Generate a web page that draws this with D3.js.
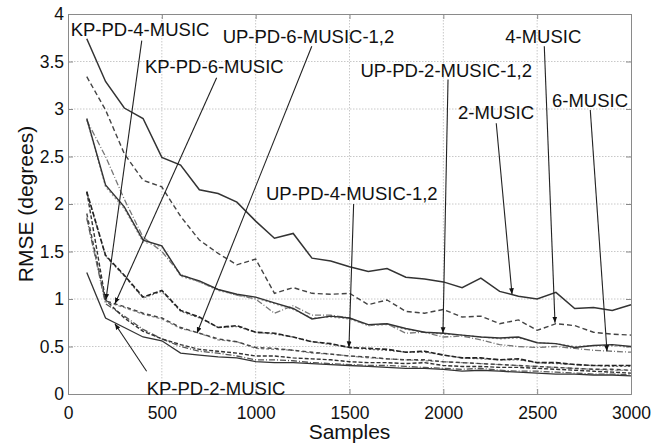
<!DOCTYPE html>
<html>
<head>
<meta charset="utf-8">
<script src="https://cdn.jsdelivr.net/npm/d3@7"></script>
<style>
    html, body { margin: 0; padding: 0; background: #fff; overflow: hidden; }
    svg { display: block; }
    svg text { font-family: "Liberation Sans", Arial, sans-serif; fill: #111; }
</style>
</head>
<body>
<div id="graph"></div>
<script>
// Samples on the x axis
const samples = [100, 200, 300, 400, 500, 600, 700, 800, 900, 1000,
    1100, 1200, 1300, 1400, 1500, 1600, 1700, 1800, 1900, 2000,
    2100, 2200, 2300, 2400, 2500, 2600, 2700, 2800, 2900, 3000];

// RMSE curves
const music2 = [3.74, 3.29, 3.01, 2.90, 2.49, 2.41, 2.15, 2.11, 2.02, 1.82,
    1.64, 1.69, 1.43, 1.40, 1.34, 1.29, 1.32, 1.23, 1.21, 1.18,
    1.12, 1.22, 1.08, 1.03, 1.00, 1.07, 0.90, 0.91, 0.88, 0.94];
const music4 = [3.34, 2.99, 2.53, 2.25, 2.18, 1.87, 1.62, 1.48, 1.36, 1.42,
    1.06, 1.12, 1.06, 1.05, 1.06, 0.94, 0.99, 0.87, 0.85, 0.89,
    0.81, 0.82, 0.74, 0.78, 0.67, 0.74, 0.72, 0.65, 0.63, 0.62];
const music6 = [2.88, 2.50, 2.05, 1.65, 1.50, 1.26, 1.18, 1.10, 1.04, 1.00,
    0.85, 0.93, 0.83, 0.83, 0.80, 0.72, 0.74, 0.64, 0.65, 0.60,
    0.61, 0.57, 0.52, 0.50, 0.49, 0.50, 0.48, 0.46, 0.45, 0.44];
const upPd2a = [2.90, 2.20, 1.97, 1.62, 1.56, 1.25, 1.19, 1.10, 1.05, 1.02,
    0.96, 0.90, 0.79, 0.82, 0.80, 0.73, 0.74, 0.69, 0.65, 0.64,
    0.62, 0.60, 0.59, 0.60, 0.54, 0.53, 0.49, 0.51, 0.52, 0.50];
const upPd2b = [2.89, 2.18, 1.95, 1.60, 1.55, 1.24, 1.18, 1.09, 1.04, 1.01,
    0.95, 0.89, 0.80, 0.81, 0.79, 0.72, 0.73, 0.68, 0.65, 0.63,
    0.62, 0.60, 0.58, 0.59, 0.54, 0.53, 0.50, 0.51, 0.51, 0.49];
const upPd4a = [2.13, 1.46, 1.25, 1.02, 1.09, 0.88, 0.81, 0.70, 0.72, 0.65,
    0.64, 0.60, 0.55, 0.53, 0.49, 0.48, 0.47, 0.44, 0.45, 0.41,
    0.38, 0.38, 0.36, 0.37, 0.33, 0.33, 0.31, 0.30, 0.30, 0.30];
const upPd4b = [2.12, 1.45, 1.24, 1.01, 1.08, 0.87, 0.80, 0.70, 0.71, 0.65,
    0.63, 0.60, 0.55, 0.52, 0.49, 0.47, 0.46, 0.44, 0.44, 0.41,
    0.38, 0.37, 0.36, 0.36, 0.33, 0.32, 0.31, 0.30, 0.29, 0.29];
const upPd6a = [1.90, 0.98, 0.92, 0.85, 0.80, 0.70, 0.64, 0.58, 0.55, 0.49,
    0.48, 0.46, 0.44, 0.42, 0.40, 0.39, 0.37, 0.36, 0.36, 0.34,
    0.33, 0.32, 0.31, 0.30, 0.29, 0.28, 0.27, 0.26, 0.26, 0.25];
const upPd6b = [1.86, 0.97, 0.91, 0.84, 0.79, 0.69, 0.64, 0.57, 0.55, 0.48,
    0.47, 0.46, 0.43, 0.42, 0.40, 0.38, 0.37, 0.36, 0.35, 0.34,
    0.33, 0.32, 0.31, 0.30, 0.29, 0.28, 0.27, 0.26, 0.25, 0.25];
const kpPd2 = [1.28, 0.80, 0.70, 0.60, 0.56, 0.43, 0.41, 0.39, 0.38, 0.34,
    0.33, 0.33, 0.32, 0.31, 0.30, 0.29, 0.28, 0.27, 0.27, 0.26,
    0.24, 0.25, 0.24, 0.23, 0.22, 0.21, 0.21, 0.20, 0.20, 0.19];
const kpPd4 = [2.13, 0.99, 0.80, 0.66, 0.58, 0.52, 0.47, 0.45, 0.43, 0.40,
    0.40, 0.38, 0.37, 0.36, 0.34, 0.33, 0.33, 0.32, 0.33, 0.30,
    0.29, 0.29, 0.28, 0.28, 0.27, 0.26, 0.25, 0.24, 0.23, 0.22];
const kpPd6 = [1.85, 0.95, 0.82, 0.68, 0.58, 0.50, 0.45, 0.43, 0.40, 0.36,
    0.36, 0.35, 0.33, 0.32, 0.31, 0.30, 0.30, 0.29, 0.28, 0.27,
    0.26, 0.27, 0.25, 0.24, 0.24, 0.23, 0.22, 0.21, 0.21, 0.20];

const xTicks = [0, 500, 1000, 1500, 2000, 2500, 3000];
const yTicks = [0, 0.5, 1, 1.5, 2, 2.5, 3, 3.5, 4];

// label text, text anchor (left, baseline), pointer tail and head — all in data units
const noteText = ["KP-PD-4-MUSIC", "UP-PD-6-MUSIC-1,2", "KP-PD-6-MUSIC", "4-MUSIC",
    "UP-PD-2-MUSIC-1,2", "6-MUSIC", "2-MUSIC", "UP-PD-4-MUSIC-1,2", "KP-PD-2-MUSIC"];
const noteAt = [[14, 3.77], [824, 3.70], [410, 3.38], [2330, 3.69],
    [1558, 3.34], [2579, 3.02], [2078, 2.89], [1055, 2.04], [419, -0.01]];
const noteFrom = [[393, 3.72], [1299, 3.66], [792, 3.33], [2538, 3.66],
    [2025, 3.31], [2783, 2.99], [2282, 2.85], [1522, 2.00], [419, 0.24]];
const noteTo = [[202, 0.99], [687, 0.64], [250, 0.95], [2595, 0.75],
    [1998, 0.64], [2872, 0.45], [2366, 1.05], [1497, 0.49], [250, 0.74]];

const series = [
    { values: kpPd2, color: "#333", dash: null, w: 1.3 },
    { values: kpPd6, color: "#555", dash: "6,2,1,2", w: 1.3 },
    { values: kpPd4, color: "#333", dash: "4,2", w: 1.4 },
    { values: upPd6b, color: "#888", dash: "3,2", w: 1.2 },
    { values: upPd6a, color: "#444", dash: "4,3", w: 1.4 },
    { values: upPd4b, color: "#777", dash: "2,2", w: 1.2 },
    { values: upPd4a, color: "#222", dash: "5,2", w: 1.6 },
    { values: music6, color: "#777", dash: "6,2,1,2", w: 1.3 },
    { values: upPd2b, color: "#999", dash: "2,2", w: 1.2 },
    { values: upPd2a, color: "#333", dash: null, w: 1.4 },
    { values: music4, color: "#444", dash: "5,3", w: 1.4 },
    { values: music2, color: "#333", dash: null, w: 1.5 }
];

const w = 664, h = 446;
const margin = { top: 14, right: 33, bottom: 52, left: 68 };
const innerWidth = w - margin.left - margin.right;
const innerHeight = h - margin.top - margin.bottom;

const svg = d3.select("#graph").append("svg")
    .attr("width", w)
    .attr("height", h);

svg.append("defs").append("marker")
    .attr("id", "arrow")
    .attr("viewBox", "0 0 10 10")
    .attr("refX", 10).attr("refY", 5)
    .attr("markerWidth", 6).attr("markerHeight", 6)
    .attr("markerUnits", "userSpaceOnUse")
    .attr("orient", "auto")
    .append("path")
    .attr("d", "M0,1L10,5L0,9Z")
    .attr("fill", "#111");

const xScale = d3.scaleLinear().domain([0, 3000]).range([0, innerWidth]);
const yScale = d3.scaleLinear().domain([0, 4]).range([innerHeight, 0]);

const g = svg.append("g")
    .attr("transform", `translate(${margin.left},${margin.top})`);

// dotted grid
g.append("g").selectAll("line")
    .data(xTicks.slice(1, -1))
    .enter().append("line")
    .attr("x1", d => xScale(d)).attr("x2", d => xScale(d))
    .attr("y1", 0).attr("y2", innerHeight)
    .attr("stroke", "#c8c8c8").attr("stroke-dasharray", "1.5,1.5");
g.append("g").selectAll("line")
    .data(yTicks.slice(1, -1))
    .enter().append("line")
    .attr("x1", 0).attr("x2", innerWidth)
    .attr("y1", d => yScale(d)).attr("y2", d => yScale(d))
    .attr("stroke", "#c8c8c8").attr("stroke-dasharray", "1.5,1.5");

// axes, ticks pointing inward, mirrored on top and right
const xAxisG = g.append("g")
    .attr("transform", `translate(0,${innerHeight})`)
    .call(d3.axisBottom(xScale).tickValues(xTicks).tickSize(-5).tickPadding(13).tickFormat(d3.format("d")));
const yAxisG = g.append("g")
    .call(d3.axisLeft(yScale).tickValues(yTicks).tickSize(-5).tickPadding(4).tickFormat(d => d));
const topG = g.append("g")
    .call(d3.axisTop(xScale).tickValues(xTicks).tickSize(-5));
const rightG = g.append("g")
    .attr("transform", `translate(${innerWidth},0)`)
    .call(d3.axisRight(yScale).tickValues(yTicks).tickSize(-5));
topG.selectAll("text").remove();
rightG.selectAll("text").remove();
g.selectAll(".domain, .tick line").attr("stroke", "#8a8a8a");
xAxisG.selectAll("text").style("font-size", "17.5px").attr("fill", "#111");
yAxisG.selectAll("text").style("font-size", "17.5px").attr("fill", "#111");

// curves
const lineGenerator = d3.line()
    .x((d, i) => xScale(samples[i]))
    .y(d => yScale(d));
g.selectAll("path.curve")
    .data(series)
    .enter().append("path")
    .attr("class", "curve")
    .attr("d", d => lineGenerator(d.values))
    .attr("fill", "none")
    .attr("stroke", d => d.color)
    .attr("stroke-width", d => d.w)
    .attr("stroke-dasharray", d => d.dash);

// annotations
g.selectAll("line.note")
    .data(noteText)
    .enter().append("line")
    .attr("class", "note")
    .attr("x1", (d, i) => xScale(noteFrom[i][0]))
    .attr("y1", (d, i) => yScale(noteFrom[i][1]))
    .attr("x2", (d, i) => xScale(noteTo[i][0]))
    .attr("y2", (d, i) => yScale(noteTo[i][1]))
    .attr("stroke", "#222")
    .attr("stroke-width", 1.1)
    .attr("marker-end", "url(#arrow)");
g.selectAll("text.note")
    .data(noteText)
    .enter().append("text")
    .attr("class", "note")
    .attr("x", (d, i) => xScale(noteAt[i][0]))
    .attr("y", (d, i) => yScale(noteAt[i][1]))
    .style("font-size", "18.5px")
    .text(d => d);

// axis titles
svg.append("text")
    .attr("x", margin.left + innerWidth / 2)
    .attr("y", 439)
    .attr("text-anchor", "middle")
    .style("font-size", "21px")
    .text("Samples");
svg.append("text")
    .attr("transform", `translate(33,${margin.top + innerHeight / 2}) rotate(-90)`)
    .attr("text-anchor", "middle")
    .style("font-size", "21px")
    .text("RMSE (degrees)");
</script>
</body>
</html>
